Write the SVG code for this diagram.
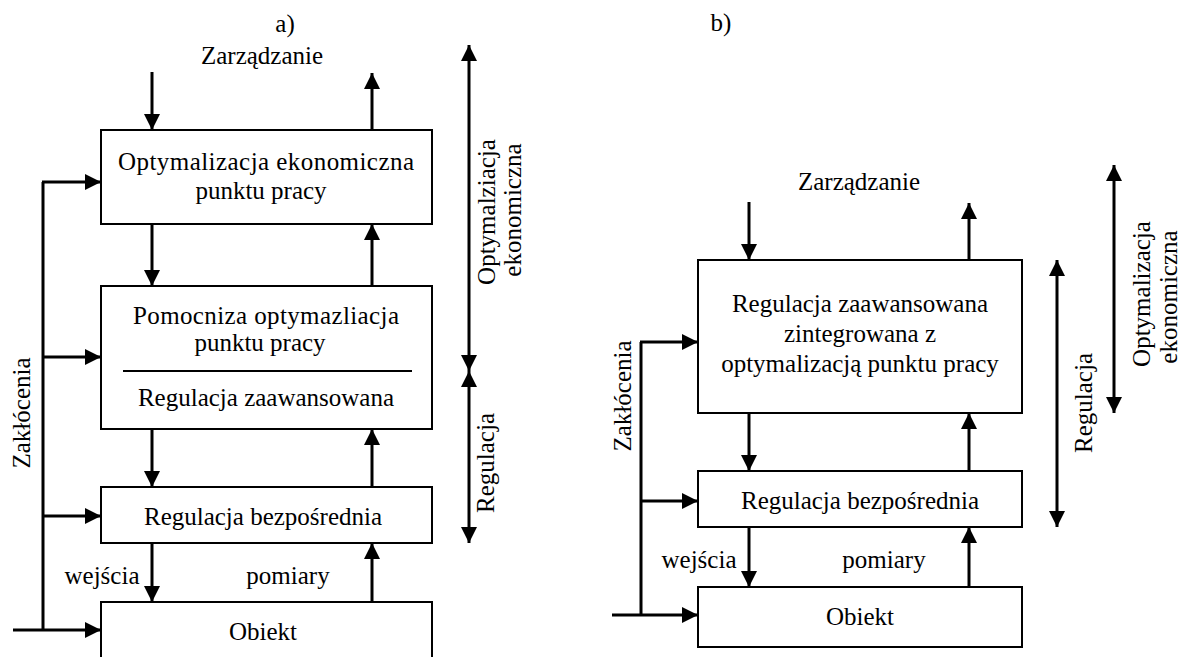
<svg xmlns="http://www.w3.org/2000/svg" width="1185" height="657" viewBox="0 0 1185 657">
<defs>
<marker id="ah" viewBox="0 0 16 16" refX="16" refY="8" markerWidth="16" markerHeight="16" markerUnits="userSpaceOnUse" orient="auto-start-reverse">
<path d="M0,0 L16,8 L0,16 z" fill="#000"/>
</marker>
<style>
.box{fill:#fff;stroke:#000;stroke-width:2}
.ln{fill:none;stroke:#000;stroke-width:3}
.ar{fill:none;stroke:#000;stroke-width:3;marker-end:url(#ah)}
.da{fill:none;stroke:#000;stroke-width:3;marker-end:url(#ah);marker-start:url(#ah)}
text{font-family:'Liberation Serif','DejaVu Serif',serif;font-size:25px;fill:#000}
.c{text-anchor:middle}
</style>
</defs>
<rect width="1185" height="657" fill="#fff"/>
<g font-family="Liberation Serif, DejaVu Serif, serif">
<!-- Diagram a -->
<g id="labels-a">
<text class="c" x="285" y="32">a)</text>
<text class="c" x="262" y="64">Zarządzanie</text>
<text class="c" x="102" y="584">wejścia</text>
<text class="c" x="288" y="584">pomiary</text>
<text class="c" transform="translate(30,413) rotate(-90)">Zakłócenia</text>
<text class="c" transform="translate(495,212) rotate(-90)">Optymalziacja</text>
<text class="c" transform="translate(521,210) rotate(-90)">ekonomiczna</text>
<text class="c" transform="translate(494,463) rotate(-90)">Regulacja</text>
</g>
<g id="a-opt">
<rect class="box" x="101" y="130" width="331" height="94"/>
<text class="c" x="266" y="170" textLength="296">Optymalizacja ekonomiczna</text>
<text class="c" x="261" y="199">punktu pracy</text>
</g>
<g id="a-pom">
<rect class="box" x="101" y="286" width="331" height="143"/>
<text class="c" x="266" y="324" textLength="266">Pomocniza optymazliacja</text>
<text class="c" x="260" y="351">punktu pracy</text>
<line x1="123" y1="371" x2="412" y2="371" stroke="#000" stroke-width="2"/>
<text class="c" x="266" y="406">Regulacja zaawansowana</text>
</g>
<g id="a-reg">
<rect class="box" x="101" y="487" width="331" height="56"/>
<text class="c" x="263" y="525">Regulacja bezpośrednia</text>
</g>
<g id="a-obj">
<rect class="box" x="101" y="602" width="331" height="80"/>
<text class="c" x="263" y="640">Obiekt</text>
</g>
<g id="a-connectors">
<line class="ar" x1="152" y1="72" x2="152" y2="130"/>
<line class="ar" x1="372" y1="130" x2="372" y2="73"/>
<line class="ar" x1="152" y1="224" x2="152" y2="286"/>
<line class="ar" x1="372" y1="286" x2="372" y2="224"/>
<line class="ar" x1="152" y1="429" x2="152" y2="487"/>
<line class="ar" x1="372" y1="487" x2="372" y2="429"/>
<line class="ar" x1="152" y1="543" x2="152" y2="602"/>
<line class="ar" x1="372" y1="602" x2="372" y2="543"/>
<polyline class="ln" points="43,630 43,182"/>
<line class="ar" x1="42" y1="182" x2="101" y2="182"/>
<line class="ar" x1="42" y1="357" x2="101" y2="357"/>
<line class="ar" x1="42" y1="516" x2="101" y2="516"/>
<line class="ar" x1="13" y1="630" x2="101" y2="630"/>
<line class="da" x1="469" y1="45" x2="469" y2="371"/>
<line class="da" x1="469" y1="371" x2="469" y2="543"/>
</g>

<!-- Diagram b -->
<g id="labels-b">
<text class="c" x="721" y="31">b)</text>
<text class="c" x="859" y="190">Zarządzanie</text>
<text class="c" x="699" y="568">wejścia</text>
<text class="c" x="884" y="568">pomiary</text>
<text class="c" transform="translate(631,396) rotate(-90)">Zakłócenia</text>
<text class="c" transform="translate(1092,403) rotate(-90)">Regulacja</text>
<text class="c" transform="translate(1150,294) rotate(-90)">Optymalizacja</text>
<text class="c" transform="translate(1177,297) rotate(-90)">ekonomiczna</text>
</g>
<g id="b-int">
<rect class="box" x="698" y="260" width="324" height="153"/>
<text class="c" x="860" y="312">Regulacja zaawansowana</text>
<text class="c" x="860" y="342">zintegrowana z</text>
<text class="c" x="860" y="372">optymalizacją punktu pracy</text>
</g>
<g id="b-reg">
<rect class="box" x="698" y="471" width="324" height="56"/>
<text class="c" x="860" y="509">Regulacja bezpośrednia</text>
</g>
<g id="b-obj">
<rect class="box" x="698" y="587" width="324" height="60"/>
<text class="c" x="860" y="625">Obiekt</text>
</g>
<g id="b-connectors">
<line class="ar" x1="749" y1="202" x2="749" y2="260"/>
<line class="ar" x1="969" y1="260" x2="969" y2="203"/>
<line class="ar" x1="749" y1="413" x2="749" y2="471"/>
<line class="ar" x1="969" y1="471" x2="969" y2="413"/>
<line class="ar" x1="749" y1="527" x2="749" y2="587"/>
<line class="ar" x1="969" y1="587" x2="969" y2="527"/>
<polyline class="ln" points="641,615 641,342"/>
<line class="ar" x1="640" y1="342" x2="698" y2="342"/>
<line class="ar" x1="640" y1="501" x2="698" y2="501"/>
<line class="ar" x1="612" y1="615" x2="698" y2="615"/>
<line class="da" x1="1057" y1="260" x2="1057" y2="527"/>
<line class="da" x1="1114" y1="165" x2="1114" y2="413"/>
</g>
</g>
</svg>
